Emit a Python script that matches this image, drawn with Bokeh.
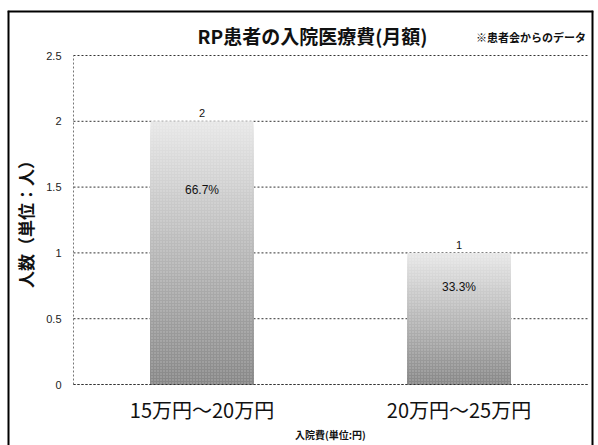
import numpy as np
from bokeh.plotting import figure
from bokeh.models import Range1d, Label, Span, FixedTicker, ColumnDataSource
from bokeh.core.properties import value
from bokeh.embed import file_html
from bokeh.resources import INLINE

# --- data -------------------------------------------------------------
title_text = "RP患者の入院医療費(月額)"
note_text = "※患者会からのデータ"
categories = ["15万円～20万円", "20万円～25万円"]
counts = [2, 1]
y_ticks = [0, 0.5, 1, 1.5, 2, 2.5]
y_tick_labels = ["0", "0.5", "1", "1.5", "2", "2.5"]
y_label = "人数（単位：人）"
x_label = "入院費(単位:円)"

JP = "Noto Sans CJK JP"
NUM = "Liberation Sans"

x_pos = [i + 0.5 for i in range(len(categories))]
total = sum(counts)
shares = [f"{c / total * 100:.1f}%" for c in counts]
y_top = y_ticks[-1]
x_top = len(categories)

# The frame covers the whole boxed panel; the value axes sit inside it
# at fixed data locations so that titles and tick labels share the box.
p = figure(width=598, height=445, output_backend="svg", toolbar_location=None,
           x_range=Range1d(-0.2568, x_top + 0.0233),
           y_range=Range1d(-0.4635, y_top + 0.342),
           min_border_left=7, min_border_right=5, min_border_top=10,
           min_border_bottom=0)
p.outline_line_color = None
p.background_fill_color = "white"
p.border_fill_color = "white"
p.grid.visible = False

# --- dotted value grid ------------------------------------------------
p.segment(x0=[0] * len(y_ticks), x1=[x_top] * len(y_ticks), y0=y_ticks, y1=y_ticks,
          line_color="#333333", line_dash="2 2", line_width=1)

# --- bars: graded fill, light at the top and dark at the base ---------
n_slices = 90
dark = np.array([0x88, 0x88, 0x88])
light = np.array([0xe8, 0xe8, 0xe8])
half_w = 0.2
lefts, rights, tops, colors = [], [], [], []
for xc, v in zip(x_pos, counts):
    for k in range(n_slices):
        t = 1 - (k + 0.5) / n_slices
        c = (dark + (light - dark) * t).astype(int)
        lefts.append(xc - half_w)
        rights.append(xc + half_w)
        tops.append(v * (1 - k / n_slices))
        colors.append("#%02x%02x%02x" % tuple(c))
p.quad(left=lefts, right=rights, bottom=0, top=tops,
       fill_color=colors, line_color=None)
# fine stipple over each bar
p.quad(left=[x - half_w for x in x_pos], right=[x + half_w for x in x_pos],
       bottom=0, top=counts, fill_color=None, line_color=None,
       hatch_pattern="dot", hatch_color="white", hatch_alpha=0.35,
       hatch_scale=3, hatch_weight=1)

# --- axes -------------------------------------------------------------
yax = p.yaxis[0]
yax.fixed_location = 0
yax.bounds = (0, y_top)
yax.ticker = FixedTicker(ticks=y_ticks)
yax.major_label_overrides = {t: s for t, s in zip(y_ticks, y_tick_labels)}
yax.axis_line_color = "#777777"
yax.axis_line_dash = "2 2"
yax.major_tick_line_color = None
yax.minor_tick_line_color = None
yax.major_tick_out = 0
yax.major_tick_in = 0
yax.major_label_standoff = 12
yax.major_label_text_font = NUM
yax.major_label_text_font_size = "11px"
yax.major_label_text_color = "#222222"
yax.axis_label = y_label
yax.axis_label_text_font = JP
yax.axis_label_text_font_size = "17px"
yax.axis_label_text_font_style = "bold"
yax.axis_label_text_color = "#111111"
yax.axis_label_standoff = 5

xax = p.xaxis[0]
xax.fixed_location = 0
xax.bounds = (0, x_top)
xax.ticker = FixedTicker(ticks=x_pos)
xax.major_label_overrides = {x: c for x, c in zip(x_pos, categories)}
xax.axis_line_color = "#333333"
xax.axis_line_dash = "2 2"
xax.major_tick_line_color = None
xax.minor_tick_line_color = None
xax.major_tick_out = 0
xax.major_tick_in = 0
xax.major_label_standoff = 10
xax.major_label_text_font = JP
xax.major_label_text_font_size = "20px"
xax.major_label_text_color = "#111111"
xax.axis_label = x_label
xax.axis_label_text_font = JP
xax.axis_label_text_font_size = "10px"
xax.axis_label_text_font_style = "bold"
xax.axis_label_text_color = "#111111"
xax.axis_label_standoff = 0

# --- value and share labels -------------------------------------------
src = ColumnDataSource(dict(x=x_pos, v=counts, txt=[str(c) for c in counts],
                            share=shares, share_y=[c * 0.74 for c in counts]))
p.text(x="x", y="v", text="txt", source=src, text_align="center",
       text_baseline="bottom", y_offset=-4, text_font=value(NUM),
       text_font_size="11px", text_color="#111111")
p.text(x="x", y="share_y", text="share", source=src, text_align="center",
       text_baseline="middle", text_font=value(NUM),
       text_font_size="12px", text_color="#111111")

# --- titles -----------------------------------------------------------
p.add_layout(Label(x=0.93, y=2.655, text=title_text, text_align="center",
                   text_baseline="middle", text_font=JP, text_font_size="19px",
                   text_font_style="bold", text_color="#111111"))
p.add_layout(Label(x=1.566, y=2.64, text=note_text, text_align="left",
                   text_baseline="middle", text_font=JP, text_font_size="11px",
                   text_font_style="bold", text_color="#111111"))

# --- panel border (left, right, top) ----------------------------------
x0, x1 = p.x_range.start, p.x_range.end
for loc, dim in [(x0, "height"), (x1, "height"), (p.y_range.end, "width")]:
    p.add_layout(Span(location=loc, dimension=dim, line_color="black", line_width=4))

open("out.html", "w").write(file_html(p, INLINE))
